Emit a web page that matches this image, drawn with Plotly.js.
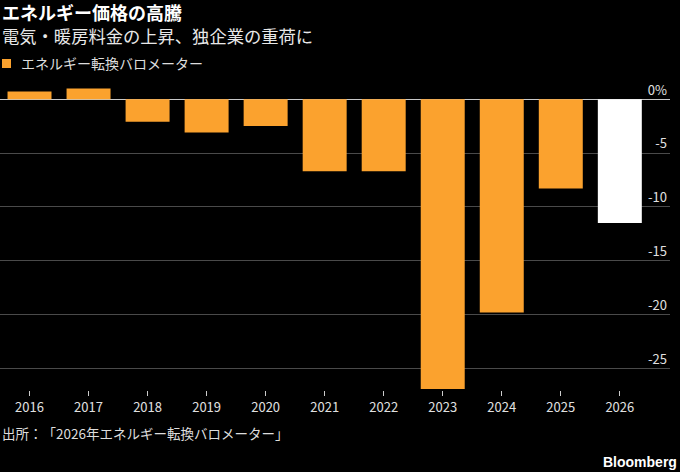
<!DOCTYPE html>
<html>
<head>
<meta charset="utf-8">
<script src="https://cdn.plot.ly/plotly-3.0.1.min.js"></script>
<style>
html,body{margin:0;padding:0;background:#000;}
#chart{width:680px;height:472px;}
svg text{text-spacing-trim:space-all;}
</style>
</head>
<body>
<div id="chart"></div>
<script>
// Data
var years = [2016, 2017, 2018, 2019, 2020, 2021, 2022, 2023, 2024, 2025];
var values = [0.7, 1.0, -2.1, -3.1, -2.5, -6.7, -6.7, -26.9, -19.8, -8.3];
var forecastYears = [2026];
var forecastValues = [-11.5];
var yTickVals = [0, -5, -10, -15, -20, -25];
var yTickText = ['0%', '-5', '-10', '-15', '-20', '-25'];
var xTickVals = [2016, 2017, 2018, 2019, 2020, 2021, 2022, 2023, 2024, 2025, 2026];

var titleText = 'エネルギー価格の高騰';
var subtitleText = '電気・暖房料金の上昇、独企業の重荷に';
var legendText = 'エネルギー転換バロメーター';
var sourceText = '出所：「2026年エネルギー転換バロメーター」';

var FONT = '"Noto Sans CJK JP", "Noto Sans", "Liberation Sans", sans-serif';
var ORANGE = '#fba22e';

var traces = [
  {
    type: 'bar', x: years, y: values, name: legendText,
    marker: {color: ORANGE, line: {width: 0}},
    showlegend: false, hoverinfo: 'x+y'
  },
  {
    type: 'bar', x: forecastYears, y: forecastValues, name: '2026',
    marker: {color: '#ffffff', line: {width: 0}},
    showlegend: false, hoverinfo: 'x+y'
  }
];

var layout = {
  width: 680, height: 472,
  paper_bgcolor: '#000000', plot_bgcolor: '#000000',
  margin: {l: 0, r: 10, t: 83, b: 82, pad: 0},
  barmode: 'overlay',
  bargap: 0.255,
  font: {family: FONT, color: '#dddddd', size: 13},
  title: {
    text: '<b>' + titleText + '</b>',
    x: 0.003, xref: 'container', xanchor: 'left',
    y: 1 - 13.5/472, yref: 'container', yanchor: 'middle',
    font: {family: FONT, size: 18, color: '#ffffff'}
  },
  xaxis: {
    range: [2015.5, 2026.85],
    tickvals: xTickVals,
    ticktext: xTickVals.map(String),
    ticks: 'outside', ticklen: 5, tickwidth: 1, tickcolor: '#cccccc',
    showgrid: false, zeroline: false, showline: false,
    tickfont: {family: FONT, size: 13, color: '#e0e0e0'},
    fixedrange: true
  },
  yaxis: {
    range: [-27, 1.5],
    side: 'right',
    tickvals: yTickVals, ticktext: yTickText,
    ticklabelposition: 'inside top',
    ticklabeloverflow: 'allow',
    ticks: '',
    showgrid: true, gridcolor: '#4a4a4a', gridwidth: 1,
    zeroline: true, zerolinecolor: '#c8c8c8', zerolinewidth: 1.3,
    showline: false,
    tickfont: {family: FONT, size: 13, color: '#e0e0e0'},
    fixedrange: true
  },
  shapes: [
    {type: 'rect', xref: 'paper', yref: 'paper',
     x0: 2/670, x1: 11/670, y0: (390-68.3)/306.7, y1: (390-59.3)/306.7,
     fillcolor: ORANGE, line: {width: 0}}
  ],
  annotations: [
    {text: subtitleText, xref: 'paper', yref: 'paper', x: 0, y: (390-35.5)/306.7,
     xanchor: 'left', yanchor: 'middle', showarrow: false,
     font: {family: FONT, size: 17.3, color: '#e8e8e8'}},
    {text: legendText, xref: 'paper', yref: 'paper', x: 19/670, y: (390-63.5)/306.7,
     xanchor: 'left', yanchor: 'middle', showarrow: false,
     font: {family: FONT, size: 14, color: '#dddddd'}},
    {text: sourceText, xref: 'paper', yref: 'paper', x: 0, y: (390-433.3)/306.7,
     xanchor: 'left', yanchor: 'middle', showarrow: false,
     font: {family: FONT, size: 13.5, color: '#dddddd'}},
    {text: '<b>Bloomberg</b>', xref: 'paper', yref: 'paper', x: 679/670, y: (390-461.7)/306.7,
     xanchor: 'right', yanchor: 'middle', showarrow: false,
     font: {family: '"Liberation Sans", Arial, sans-serif', size: 14, color: '#ffffff'}}
  ]
};

Plotly.newPlot('chart', traces, layout, {displayModeBar: false, staticPlot: true});
</script>
</body>
</html>
